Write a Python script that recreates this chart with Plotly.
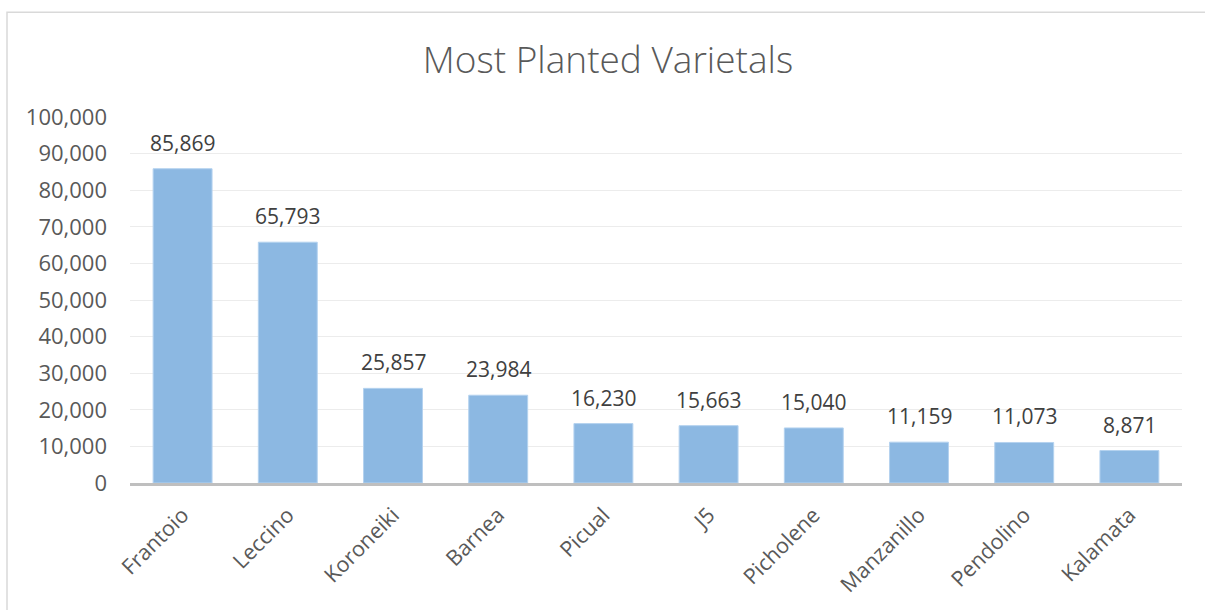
import plotly.graph_objects as go

categories = ["Frantoio", "Leccino", "Koroneiki", "Barnea", "Picual", "J5",
              "Picholene", "Manzanillo", "Pendolino", "Kalamata"]
values = [85869, 65793, 25857, 23984, 16230, 15663, 15040, 11159, 11073, 8871]
y_ticks = list(range(0, 100001, 10000))
y_tick_labels = [f"{v:,}" for v in y_ticks]

W, H = 1205, 610
L, R, T, B = 130, 23, 117, 124
pw, ph = W - L - R, H - T - B

font_family = "'Open Sans', sans-serif"

fig = go.Figure()
fig.add_trace(go.Bar(
    x=categories, y=values,
    marker=dict(color="#8cb8e2", line=dict(color="#b4d2ef", width=1)),
    width=0.56,
    hoverinfo="x+y",
))

annotations = []
for c, v in zip(categories, values):
    annotations.append(dict(
        x=c, y=v, xref="x", yref="y", text=f"{v:,}", showarrow=False,
        yanchor="bottom", yshift=10,
        font=dict(family=font_family, size=21, color="#404040"),
    ))

fig.update_layout(
    width=W, height=H,
    margin=dict(l=L, r=R, t=T, b=B),
    paper_bgcolor="white", plot_bgcolor="white",
    title=dict(text="Most Planted Varietals", x=608 / W, xanchor="center",
               y=1 - 60 / H, yanchor="middle",
               font=dict(family=font_family, size=37, color="#595959", weight=300)),
    xaxis=dict(showgrid=False, tickangle=-45, showline=True,
               linecolor="#bfbfbf", linewidth=3, ticks="",
               ticklabelstandoff=8,
               tickfont=dict(family=font_family, size=21.5, color="#595959")),
    yaxis=dict(range=[0, 100000], tickvals=y_ticks, ticktext=y_tick_labels,
               showgrid=True, gridcolor="#ececec", gridwidth=1,
               zeroline=False, showline=False, ticks="",
               ticklabelstandoff=22,
               tickfont=dict(family=font_family, size=22, color="#595959")),
    annotations=annotations,
    showlegend=False,
    shapes=[dict(type="rect", xref="paper", yref="paper",
                 x0=(7 - L) / pw, x1=(1230 - L) / pw,
                 y0=(H - 640 - B) / ph, y1=(H - 11.5 - B) / ph,
                 line=dict(color="#d9d9d9", width=1.5), layer="below")],
)

fig.write_html("out.html", config={"displayModeBar": False},
               post_script="document.body.style.margin='0';document.body.style.overflow='hidden';")
